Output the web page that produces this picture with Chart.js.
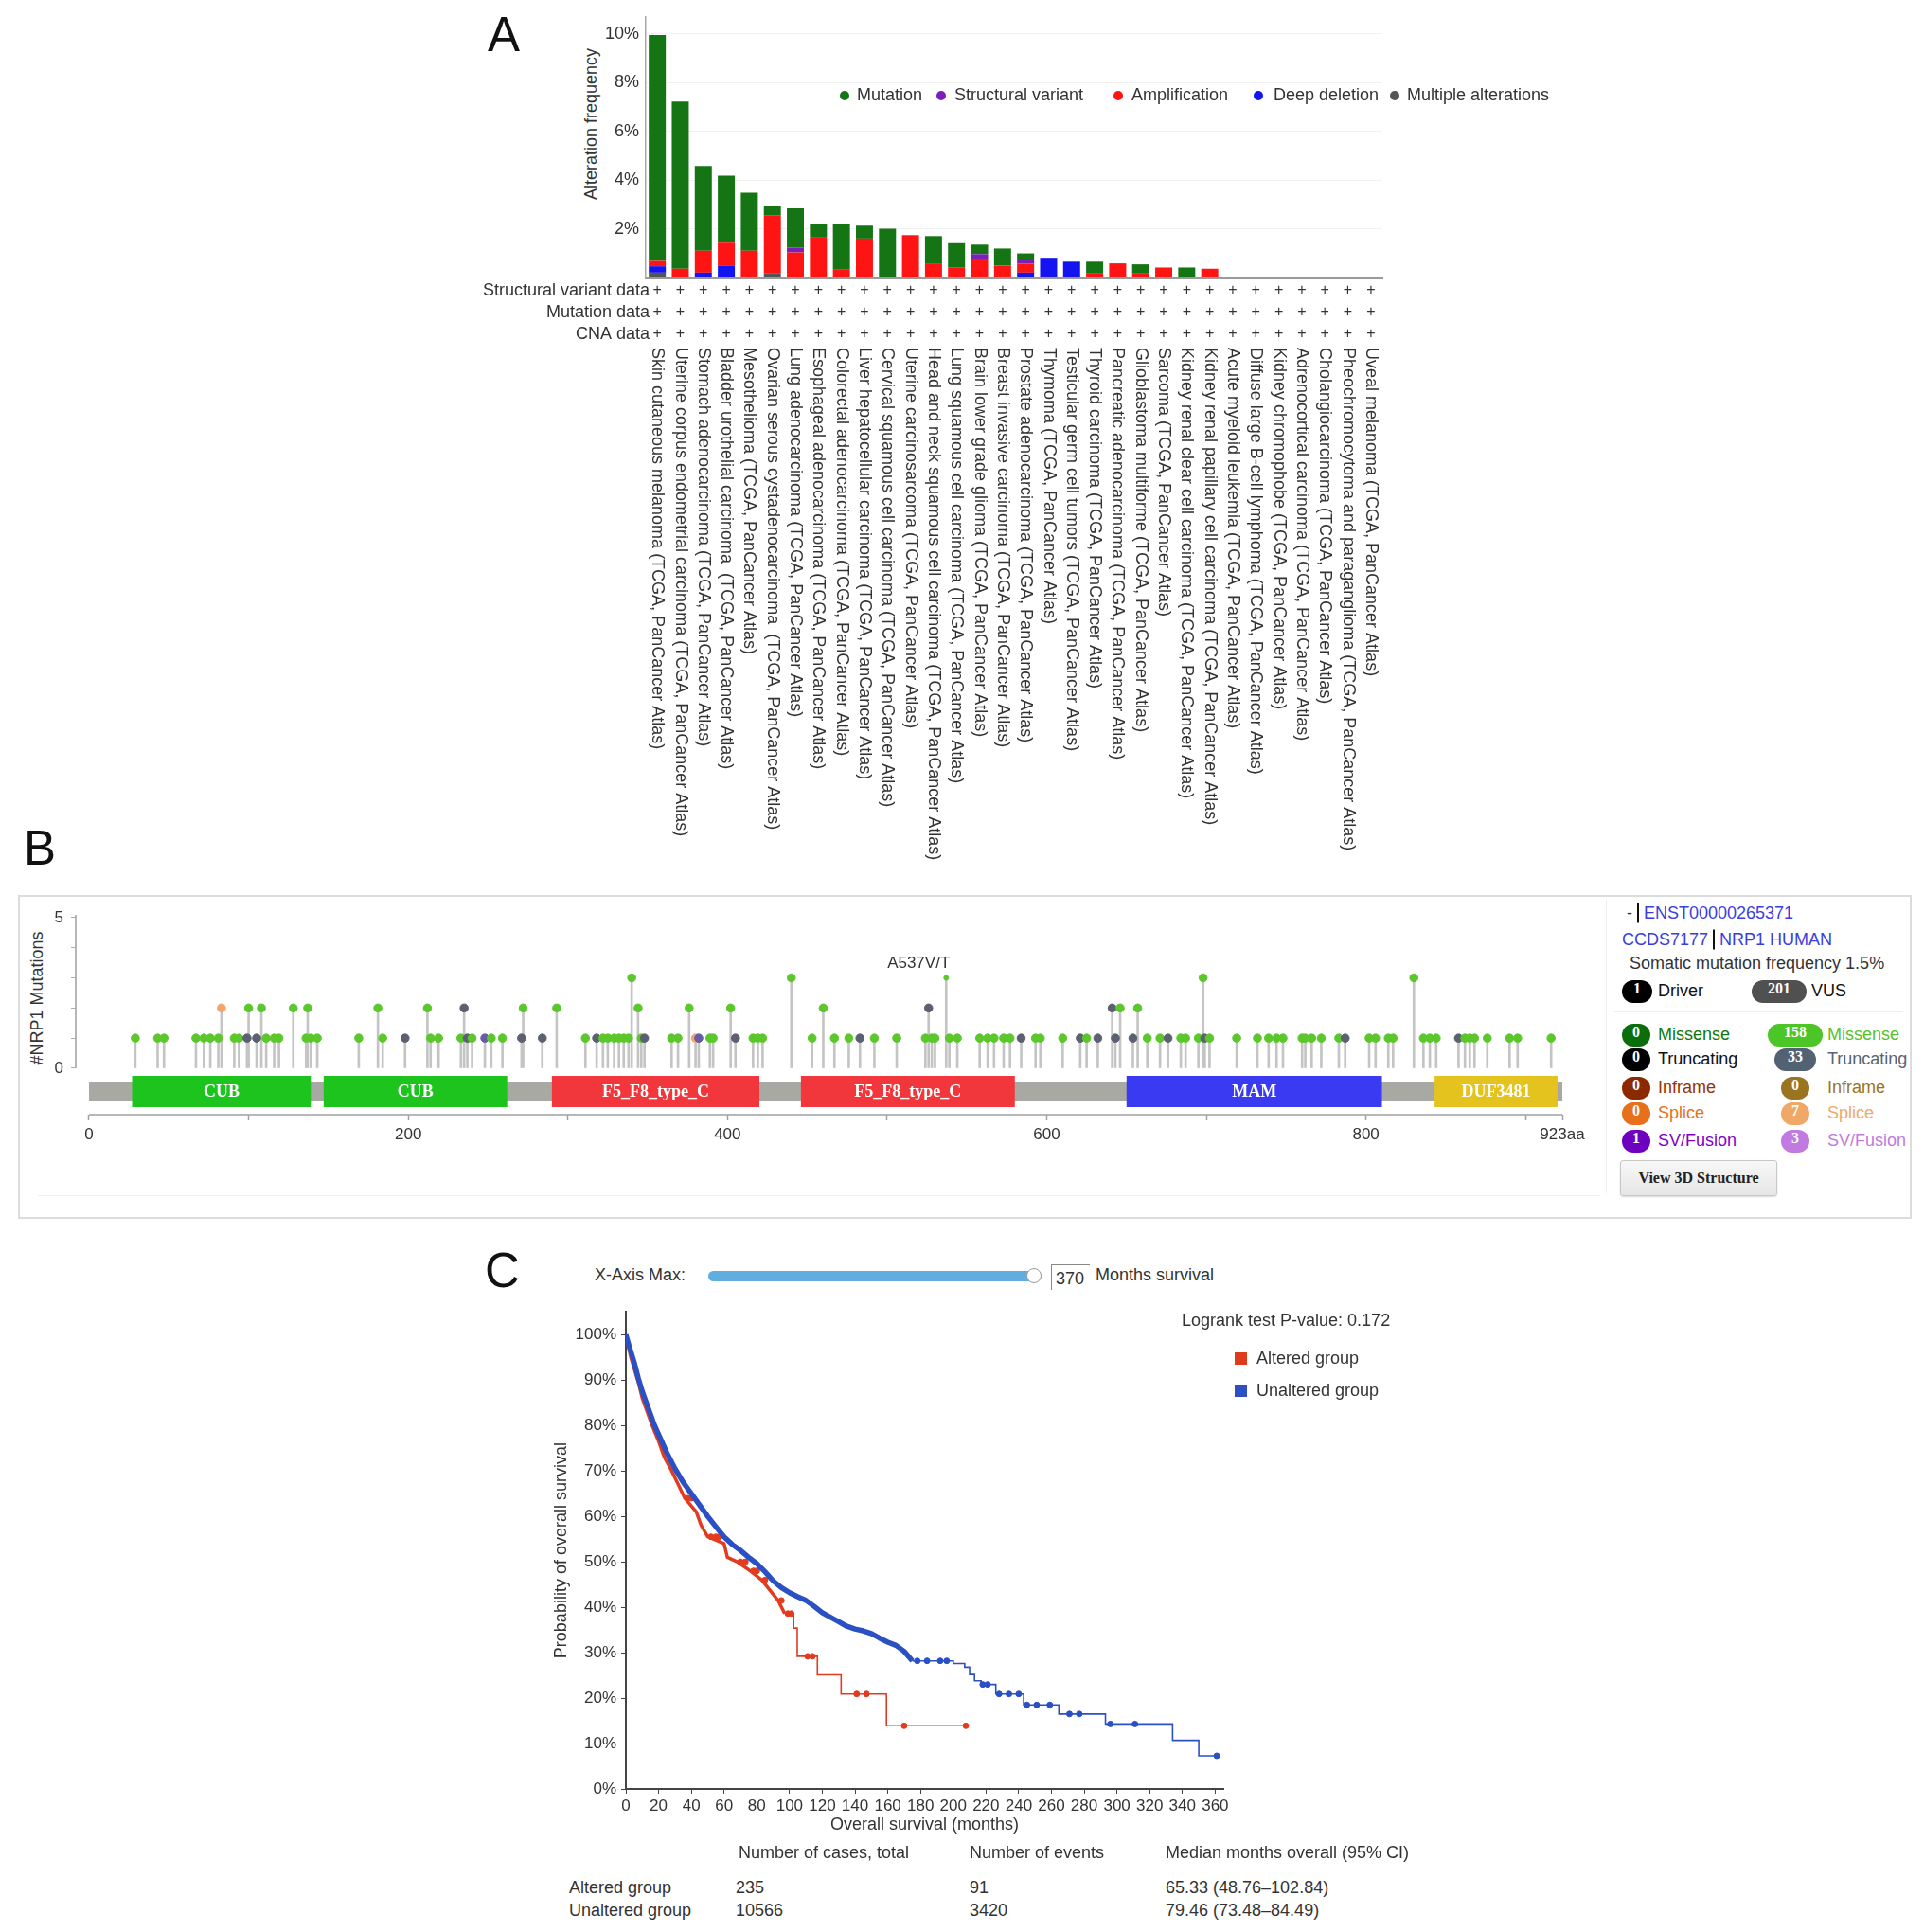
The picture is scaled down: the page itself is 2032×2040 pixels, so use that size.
<!DOCTYPE html>
<html>
<head>
<meta charset="utf-8">
<script src="https://cdn.jsdelivr.net/npm/chart.js@4.4.1/dist/chart.umd.min.js"></script>
<style>
  body { margin: 0; background: #fff; width: 2032px; height: 2040px; position: relative; overflow: hidden;
         font-family: "Liberation Sans", Arial, sans-serif; color: #333; }
  canvas { position: absolute; }
  .abs { position: absolute; white-space: nowrap; line-height: 1.2; }
  .c { transform: translateY(-50%); }
  .rot { position: absolute; white-space: nowrap; transform: translate(-50%, -50%) rotate(-90deg); font-size: 18px; }
  .letter { position: absolute; font-size: 51px; line-height: 1; color: #111; }
  .t18 { font-size: 18px; }
  .lnk { color: #3a3ee0; }
  .vbar { display: inline-block; width: 2px; height: 21px; background: #111; vertical-align: middle; margin: 0 5px 2px 5px; }
  .pill { position: absolute; height: 24px; border-radius: 12px; color: #fff; text-align: center; line-height: 24px;
          font: bold 16px "Liberation Serif", "Times New Roman", serif; transform: translateY(-50%); }
  #boxB { position: absolute; left: 19px; top: 945px; width: 1996px; height: 338px; border: 2px solid #dcdcdc; }
  .btn { position: absolute; left: 1711px; top: 1225px; width: 164px; height: 36px; border: 1px solid #c8c8c8; border-radius: 3px;
         background: linear-gradient(#f8f8f8, #e6e6e6); box-shadow: 0 1px 2px rgba(0,0,0,0.15);
         font: bold 16px "Liberation Serif", "Times New Roman", serif; color: #222; text-align: center; line-height: 36px; }
</style>
</head>
<body>

<!-- Panel A -->
<div class="letter" style="left:515px;top:11px">A</div>
<div class="rot" style="left:624px;top:131px">Alteration frequency</div>
<canvas id="chartA" width="1200" height="910" style="left:480px;top:0"></canvas>
<div id="legendA"></div>

<!-- Panel B -->
<div class="letter" style="left:25px;top:870px">B</div>
<div id="boxB"></div>
<div class="abs" style="left:40px;top:1262px;width:1650px;height:1px;background:#f0f0f0"></div>
<div class="abs" style="left:1696px;top:950px;width:1px;height:310px;background:#eeeeee"></div>
<div class="rot" style="left:39px;top:1054px">#NRP1 Mutations</div>
<canvas id="chartB" width="1680" height="300" style="left:20px;top:946px"></canvas>
<div id="legendB"></div>

<!-- Panel C -->
<div class="letter" style="left:512px;top:1316px">C</div>
<div class="abs c t18" style="left:628px;top:1347px">X-Axis Max:</div>
<div class="abs" style="left:748px;top:1342px;width:352px;height:11px;border-radius:6px;background:#62ade0"></div>
<div class="abs" style="left:1084px;top:1339px;width:14px;height:14px;border-radius:50%;background:#fff;border:1.5px solid #9a9a9a"></div>
<div class="abs t18" style="left:1110px;top:1335px;width:36px;height:26px;border-left:1.5px solid #888;border-top:1.5px solid #888;padding-left:4px;line-height:28px">370</div>
<div class="abs c t18" style="left:1157px;top:1347px">Months survival</div>
<canvas id="chartC" width="760" height="580" style="left:560px;top:1370px"></canvas>
<div class="abs c t18" style="left:1248px;top:1395px">Logrank test P-value: 0.172</div>
<div class="abs" style="left:1304px;top:1428px;width:13px;height:13px;background:#e03a1c"></div>
<div class="abs c t18" style="left:1327px;top:1435px">Altered group</div>
<div class="abs" style="left:1304px;top:1462px;width:13px;height:13px;background:#2c4fc4"></div>
<div class="abs c t18" style="left:1327px;top:1469px">Unaltered group</div>
<div id="tableC"></div>

<script>
const FONT = '"Liberation Sans", Arial, sans-serif';
Chart.defaults.font.family = FONT;
Chart.defaults.color = '#333';

// ---------- Panel A data ----------
const cancerTypes = [
  'Skin cutaneous melanoma (TCGA, PanCancer Atlas)',
  'Uterine corpus endometrial carcinoma (TCGA, PanCancer Atlas)',
  'Stomach adenocarcinoma (TCGA, PanCancer Atlas)',
  'Bladder urothelial carcinoma  (TCGA, PanCancer Atlas)',
  'Mesothelioma (TCGA, PanCancer Atlas)',
  'Ovarian serous cystadenocarcinoma  (TCGA, PanCancer Atlas)',
  'Lung adenocarcinoma (TCGA, PanCancer Atlas)',
  'Esophageal adenocarcinoma (TCGA, PanCancer Atlas)',
  'Colorectal adenocarcinoma (TCGA, PanCancer Atlas)',
  'Liver hepatocellular carcinoma (TCGA, PanCancer Atlas)',
  'Cervical squamous cell carcinoma (TCGA, PanCancer Atlas)',
  'Uterine carcinosarcoma (TCGA, PanCancer Atlas)',
  'Head and neck squamous cell carcinoma (TCGA, PanCancer Atlas)',
  'Lung squamous cell carcinoma (TCGA, PanCancer Atlas)',
  'Brain lower grade glioma (TCGA, PanCancer Atlas)',
  'Breast invasive carcinoma (TCGA, PanCancer Atlas)',
  'Prostate adenocarcinoma (TCGA, PanCancer Atlas)',
  'Thymoma (TCGA, PanCancer Atlas)',
  'Testicular germ cell tumors (TCGA, PanCancer Atlas)',
  'Thyroid carcinoma (TCGA, PanCancer Atlas)',
  'Pancreatic adenocarcinoma (TCGA, PanCancer Atlas)',
  'Glioblastoma multiforme (TCGA, PanCancer Atlas)',
  'Sarcoma (TCGA, PanCancer Atlas)',
  'Kidney renal clear cell carcinoma (TCGA, PanCancer Atlas)',
  'Kidney renal papillary cell carcinoma (TCGA, PanCancer Atlas)',
  'Acute myeloid leukemia (TCGA, PanCancer Atlas)',
  'Diffuse large B-cell lymphoma (TCGA, PanCancer Atlas)',
  'Kidney chromophobe (TCGA, PanCancer Atlas)',
  'Adrenocortical carcinoma (TCGA, PanCancer Atlas)',
  'Cholangiocarcinoma (TCGA, PanCancer Atlas)',
  'Pheochromocytoma and paraganglioma (TCGA, PanCancer Atlas)',
  'Uveal melanoma (TCGA, PanCancer Atlas)'
];
const dataRows = ['Structural variant data', 'Mutation data', 'CNA data'];
const mutationFreq = [9.28, 6.87, 3.48, 2.75, 2.38, 0.38, 1.62, 0.55, 1.86, 0.53, 2.00, 0, 1.12, 0.99, 0.39, 0.70,
                      0.22, 0, 0, 0.46, 0, 0.35, 0, 0.41, 0, 0, 0, 0, 0, 0, 0, 0];
const svFreq =       [0, 0, 0, 0, 0, 0, 0.19, 0, 0, 0, 0, 0, 0, 0, 0.19, 0,
                      0.20, 0, 0, 0, 0, 0, 0, 0, 0, 0, 0, 0, 0, 0, 0, 0];
const ampFreq =      [0.22, 0.36, 0.90, 0.94, 1.10, 2.37, 1.03, 1.64, 0.32, 1.60, 0, 1.74, 0.58, 0.42, 0.77, 0.49,
                      0.37, 0, 0, 0.19, 0.58, 0.19, 0.41, 0, 0.36, 0, 0, 0, 0, 0, 0, 0];
const deepDelFreq =  [0.26, 0, 0.20, 0.49, 0, 0, 0, 0, 0, 0, 0, 0, 0, 0, 0, 0,
                      0.20, 0.81, 0.65, 0, 0, 0, 0, 0, 0, 0, 0, 0, 0, 0, 0, 0];
const multipleFreq = [0.20, 0, 0, 0, 0, 0.17, 0, 0, 0, 0, 0, 0, 0, 0, 0, 0,
                      0, 0, 0, 0, 0, 0, 0, 0, 0, 0, 0, 0, 0, 0, 0, 0];
const freqTicks = [2, 4, 6, 8, 10];

const ALT_COLORS = {
  mutation: '#157515', sv: '#7b1fb8', amp: '#ff1414', deep: '#1414f0', multiple: '#555555'
};

// ---------- Panel B data ----------
const PROTEIN_LENGTH = 923;
const domainNames = ['CUB', 'CUB', 'F5_F8_type_C', 'F5_F8_type_C', 'MAM', 'DUF3481'];
const domainStart = [27, 147, 290, 446, 650, 843];
const domainEnd   = [139, 262, 420, 580, 810, 920];
const domainColors = ['#1ec41e', '#1ec41e', '#f2373c', '#f2373c', '#3a3af2', '#e4c31e'];

const mutPos = [29, 43, 47, 67, 72, 76, 81, 83, 91, 94, 99, 100, 105, 108, 111, 116, 119, 128, 136, 137, 139, 143,
  169, 181, 184, 198, 212, 214, 219, 233, 235, 237, 240, 248, 252, 259, 271, 272, 284, 293, 311, 318, 322, 325,
  329, 332, 335, 338, 340, 344, 346, 348, 365, 369, 376, 380, 382, 389, 391, 402, 405, 416, 419, 422, 440, 453,
  460, 467, 476, 483, 492, 506, 524, 526, 528, 530, 537, 539, 544, 558, 563, 567, 573, 577, 584, 593, 596, 610,
  621, 625, 632, 641, 643, 646, 654, 657, 663, 671, 676, 684, 687, 695, 698, 699, 702, 719, 732, 739, 744, 748,
  760, 762, 766, 772, 783, 787, 802, 806, 814, 817, 830, 836, 840, 844, 858, 862, 865, 868, 876, 890, 895, 916];
const mutCount = [1, 1, 1, 1, 1, 1, 1, 2, 1, 1, 1, 2, 1, 2, 1, 1, 1, 2, 1, 2, 1, 1,
  1, 2, 1, 1, 2, 1, 1, 1, 2, 1, 1, 1, 1, 1, 1, 2, 1, 2, 1, 1, 1, 1,
  1, 1, 1, 1, 3, 2, 1, 1, 1, 1, 2, 1, 1, 1, 1, 2, 1, 1, 1, 1, 3, 1,
  2, 1, 1, 1, 1, 1, 1, 2, 1, 1, 3, 1, 1, 1, 1, 1, 1, 1, 1, 1, 1, 1,
  1, 1, 1, 2, 1, 2, 1, 2, 1, 1, 1, 1, 1, 1, 3, 1, 1, 1, 1, 1, 1, 1,
  1, 1, 1, 1, 1, 1, 1, 1, 1, 1, 3, 1, 1, 1, 1, 1, 1, 1, 1, 1, 1, 1];
const mutType = ['M', 'M', 'M', 'M', 'M', 'M', 'M', 'S', 'M', 'M', 'T', 'M', 'T', 'M', 'M', 'M', 'M', 'M', 'M', 'M', 'M', 'M',
  'M', 'M', 'M', 'T', 'M', 'M', 'M', 'M', 'T', 'T', 'M', 'F', 'M', 'M', 'T', 'M', 'T', 'M', 'M', 'T', 'M', 'M',
  'M', 'M', 'M', 'M', 'M', 'M', 'M', 'T', 'M', 'M', 'M', 'S', 'F', 'M', 'M', 'M', 'T', 'M', 'M', 'M', 'M', 'M',
  'M', 'M', 'M', 'T', 'M', 'M', 'M', 'T', 'M', 'M', 'M', 'M', 'M', 'M', 'M', 'M', 'M', 'M', 'T', 'M', 'M', 'M',
  'T', 'M', 'T', 'T', 'T', 'M', 'T', 'M', 'M', 'M', 'T', 'M', 'M', 'M', 'M', 'T', 'M', 'M', 'M', 'M', 'M', 'M',
  'M', 'M', 'M', 'M', 'M', 'T', 'M', 'M', 'M', 'M', 'M', 'M', 'M', 'M', 'T', 'M', 'M', 'M', 'M', 'M', 'M', 'M'];
const HEAD_COLORS = { M: '#5cc72c', T: '#5b6170', F: '#675ca6', S: '#f2a46e' };
const labelledMutation = { pos: 537, text: 'A537V/T' };
const countTicks = [0, 1, 2, 3, 4, 5];
const aaTicks = [0, 100, 200, 300, 400, 500, 600, 700, 800, 900, 923];

// ---------- Panel C data ----------
const unalteredT = [0, 2, 5, 7.5, 10, 12.5, 15, 17.5, 20, 25, 30, 35, 40, 45, 50, 55, 60, 65, 70, 75, 80, 85, 90, 95,
  100, 105, 110, 115, 120, 125, 130, 135, 140, 145, 150, 155, 160, 165, 170, 175, 200, 207, 210, 213, 217, 226,
  243, 264.5, 293, 334, 350, 361];
const unalteredS = [100, 97.5, 94, 90.5, 87.5, 85, 82.5, 80, 78, 74, 70.5, 67.5, 65, 62.5, 60, 57.7, 55.5, 53.8, 52.5,
  51, 49.6, 47.8, 45.8, 44.3, 43.2, 42.3, 41.5, 40.2, 38.8, 37.8, 36.8, 35.8, 35.2, 34.8, 34.2, 33.2, 32.3, 31.6,
  30.3, 28.2, 27.6, 26.8, 25.2, 23.8, 23.0, 20.9, 18.5, 16.5, 14.3, 10.7, 7.3, 7.3];
const unalteredCensorT = [178, 184, 192, 196, 218, 221, 228, 234, 240, 245, 251, 259, 271, 277, 296, 311, 361];
const unalteredCensorS = [28.2, 28.2, 28.2, 28.2, 23.0, 23.0, 20.9, 20.9, 20.9, 18.5, 18.5, 18.5, 16.5, 16.5, 14.3, 14.3, 7.3];

const alteredT = [0, 3, 5.5, 8, 10, 13, 16, 20, 23.5, 28, 32, 36, 43, 46, 50, 60, 62, 68, 76, 83, 93, 97, 102.5,
  104.7, 117, 131.5, 159.2, 207.7];
const alteredS = [100, 95, 92, 89, 86, 83, 80, 76.5, 73, 70, 67, 64, 61, 58, 55.5, 54, 51, 50, 48, 46, 41.5, 38.6,
  35.4, 29.2, 25.1, 20.9, 13.9, 13.9];
const alteredCensorT = [38, 40, 52, 55, 57, 70, 73, 78, 80, 85, 95, 99, 101, 111, 114, 141, 147, 170, 207.7];
const alteredCensorS = [64, 64, 55.5, 55.5, 55.5, 50, 50, 48, 48, 46, 41.5, 38.6, 38.6, 29.2, 29.2, 20.9, 20.9, 13.9, 13.9];
// beyond these times the curves are drawn as sparse steps; before them events are dense
const unalteredDenseUntil = 175;
const alteredDenseUntil = 97;
const survTicksX = [0, 20, 40, 60, 80, 100, 120, 140, 160, 180, 200, 220, 240, 260, 280, 300, 320, 340, 360];
const survTicksY = [0, 10, 20, 30, 40, 50, 60, 70, 80, 90, 100];

const tableHeader = ['Number of cases, total', 'Number of events', 'Median months overall (95% CI)'];
const tableGroups = ['Altered group', 'Unaltered group'];
const tableCases = ['235', '10566'];
const tableEvents = ['91', '3420'];
const tableMedian = ['65.33 (48.76\u2013102.84)', '79.46 (73.48\u201384.49)'];

// ================= Panel A =================
const studyLabelsPlugin = {
  id: 'studyLabels',
  afterDraw(chart) {
    const { ctx } = chart;
    const x = chart.scales.x;
    const rowY = [307, 330, 353];
    ctx.save();
    ctx.fillStyle = '#333';
    ctx.textBaseline = 'middle';
    dataRows.forEach((name, r) => {
      ctx.font = '18px ' + FONT;
      ctx.textAlign = 'right';
      ctx.fillText(name, x.left + 4, rowY[r]);
      ctx.font = '16px ' + FONT;
      ctx.textAlign = 'center';
      cancerTypes.forEach((_, i) => ctx.fillText('+', x.getPixelForValue(i), rowY[r]));
    });
    ctx.font = '18px ' + FONT;
    ctx.textAlign = 'left';
    cancerTypes.forEach((name, i) => {
      ctx.save();
      ctx.translate(x.getPixelForValue(i), 367);
      ctx.rotate(Math.PI / 2);
      ctx.fillText(name, 0, 0);
      ctx.restore();
    });
    ctx.restore();
  }
};

new Chart(document.getElementById('chartA'), {
  type: 'bar',
  data: {
    labels: cancerTypes,
    datasets: [
      { label: 'Multiple alterations', data: multipleFreq, backgroundColor: ALT_COLORS.multiple },
      { label: 'Deep deletion', data: deepDelFreq, backgroundColor: ALT_COLORS.deep },
      { label: 'Amplification', data: ampFreq, backgroundColor: ALT_COLORS.amp },
      { label: 'Structural variant', data: svFreq, backgroundColor: ALT_COLORS.sv },
      { label: 'Mutation', data: mutationFreq, backgroundColor: ALT_COLORS.mutation }
    ]
  },
  options: {
    responsive: false,
    animation: false,
    layout: { padding: { left: 126, right: 220, top: 18, bottom: 617 } },
    datasets: { bar: { categoryPercentage: 1, barPercentage: 0.74 } },
    plugins: { legend: { display: false }, tooltip: { enabled: false } },
    scales: {
      x: {
        stacked: true,
        grid: { display: false },
        ticks: { display: false },
        border: { color: '#9a9a9a', width: 3 },
        afterFit(s) { s.height = 0; }
      },
      y: {
        stacked: true, min: 0, max: 10.7,
        afterBuildTicks(s) { s.ticks = freqTicks.map(v => ({ value: v })); },
        ticks: { callback: v => v + '%', font: { size: 18 }, color: '#333', padding: 7 },
        grid: { color: '#f1f1f1', drawTicks: false },
        border: { color: '#a8a8a8', width: 1.5 },
        afterFit(s) { s.width = 76; }
      }
    }
  },
  plugins: [studyLabelsPlugin]
});

// legend A (html)
const legendItemsA = [
  { text: 'Mutation', color: ALT_COLORS.mutation, dot: 892, label: 905 },
  { text: 'Structural variant', color: ALT_COLORS.sv, dot: 994, label: 1008 },
  { text: 'Amplification', color: ALT_COLORS.amp, dot: 1181, label: 1195 },
  { text: 'Deep deletion', color: ALT_COLORS.deep, dot: 1329, label: 1345 },
  { text: 'Multiple alterations', color: ALT_COLORS.multiple, dot: 1473, label: 1486 }
];
document.getElementById('legendA').innerHTML = legendItemsA.map(it =>
  `<div class="abs" style="left:${it.dot - 5}px;top:96px;width:10px;height:10px;border-radius:50%;background:${it.color}"></div>
   <div class="abs c t18" style="left:${it.label}px;top:101px">${it.text}</div>`).join('');

// ================= Panel B =================
const proteinPlugin = {
  id: 'protein',
  afterDatasetsDraw(chart) {
    const { ctx, chartArea } = chart;
    const { x, y } = chart.scales;
    const y0 = y.getPixelForValue(0);
    const x0 = x.getPixelForValue(0), x1 = x.getPixelForValue(PROTEIN_LENGTH);
    ctx.save();
    // axis lines
    ctx.strokeStyle = '#a0a0a0';
    ctx.lineWidth = 1.5;
    ctx.beginPath();
    ctx.moveTo(chartArea.left, y.getPixelForValue(5.09));
    ctx.lineTo(chartArea.left, y0);
    ctx.moveTo(x0, chartArea.bottom);
    ctx.lineTo(x1, chartArea.bottom);
    ctx.stroke();
    // backbone
    ctx.fillStyle = '#a9a9a3';
    ctx.fillRect(x0, y0 + 15, x1 - x0, 20);
    // domains
    ctx.font = 'bold 18px "Liberation Serif", "Times New Roman", serif';
    ctx.textAlign = 'center';
    ctx.textBaseline = 'middle';
    domainNames.forEach((name, i) => {
      const a = x.getPixelForValue(domainStart[i]), b = x.getPixelForValue(domainEnd[i]);
      ctx.fillStyle = domainColors[i];
      ctx.fillRect(a, y0 + 8, b - a, 33);
      ctx.fillStyle = '#ffffff';
      ctx.fillText(name, (a + b) / 2, y0 + 25);
    });
    // labelled hotspot
    const idx = mutPos.indexOf(labelledMutation.pos);
    ctx.fillStyle = '#333';
    ctx.font = '17px ' + FONT;
    ctx.textAlign = 'right';
    ctx.fillText(labelledMutation.text, x.getPixelForValue(labelledMutation.pos) + 4, y.getPixelForValue(mutCount[idx]) - 15);
    ctx.restore();
  }
};

new Chart(document.getElementById('chartB'), {
  type: 'scatter',
  data: {
    datasets: [
      {
        type: 'bar', order: 1,
        data: mutPos.map((p, i) => ({ x: p, y: mutCount[i] })),
        backgroundColor: '#c4c4c4', barThickness: 2
      },
      {
        type: 'scatter', order: 0,
        data: mutPos.map((p, i) => ({ x: p, y: mutCount[i] })),
        pointRadius: c => mutPos[c.dataIndex] === labelledMutation.pos ? 2.5 : 4.3,
        pointBackgroundColor: c => HEAD_COLORS[mutType[c.dataIndex]],
        pointBorderColor: c => HEAD_COLORS[mutType[c.dataIndex]],
        pointBorderWidth: 1
      }
    ]
  },
  options: {
    responsive: false,
    animation: false,
    layout: { padding: { left: 5, right: 50, top: 20, bottom: 29 } },
    plugins: { legend: { display: false }, tooltip: { enabled: false } },
    scales: {
      x: {
        type: 'linear', min: -8.3, max: PROTEIN_LENGTH, offset: false,
        afterBuildTicks(s) { s.ticks = aaTicks.map(v => ({ value: v })); },
        ticks: {
          autoSkip: false, maxRotation: 0, padding: 5, font: { size: 17 }, color: '#333',
          callback: v => v === PROTEIN_LENGTH ? v + 'aa' : (v % 200 === 0 ? v : '')
        },
        grid: { offset: false, drawOnChartArea: false, drawTicks: true, tickLength: 6, tickColor: '#a0a0a0', tickWidth: 1.5 },
        border: { display: false },
        afterFit(s) { s.height = 40; }
      },
      y: {
        min: -1.54, max: 5.09,
        afterBuildTicks(s) { s.ticks = countTicks.map(v => ({ value: v })); },
        ticks: { padding: 8, font: { size: 17 }, color: '#333', callback: v => (v === 0 || v === 5) ? v : '' },
        grid: { drawOnChartArea: false, drawTicks: true, tickLength: 5, tickColor: '#b0b0b0' },
        border: { display: false },
        afterFit(s) { s.width = 55; }
      }
    }
  },
  plugins: [proteinPlugin]
});

// legend B (html)
const pillRowsY = [1093, 1119, 1149, 1176, 1205];
const driverPills = [
  { n: '0', label: 'Missense', bg: '#0b6e0b', fg: '#0b780b' },
  { n: '0', label: 'Truncating', bg: '#000000', fg: '#111111' },
  { n: '0', label: 'Inframe', bg: '#8b2a00', fg: '#993300' },
  { n: '0', label: 'Splice', bg: '#e8701a', fg: '#e8701a' },
  { n: '1', label: 'SV/Fusion', bg: '#7000c0', fg: '#8000c8' }
];
const vusPills = [
  { n: '158', label: 'Missense', bg: '#4cc626', fg: '#55c22a', w: 58 },
  { n: '33', label: 'Truncating', bg: '#536272', fg: '#5a6472', w: 44 },
  { n: '0', label: 'Inframe', bg: '#9a7420', fg: '#9a7420', w: 30 },
  { n: '7', label: 'Splice', bg: '#f0a868', fg: '#f0a868', w: 30 },
  { n: '3', label: 'SV/Fusion', bg: '#c07ae0', fg: '#c07ae0', w: 30 }
];
let htmlB = `
  <div class="abs c t18" style="left:1718px;top:965px">-<span class="vbar"></span><span class="lnk">ENST00000265371</span></div>
  <div class="abs c t18" style="left:1713px;top:993px"><span class="lnk">CCDS7177</span><span class="vbar"></span><span class="lnk">NRP1 HUMAN</span></div>
  <div class="abs c t18" style="left:1721px;top:1018px">Somatic mutation frequency 1.5%</div>
  <div class="pill" style="left:1713px;top:1047px;width:32px;background:#000">1</div>
  <div class="abs c t18" style="left:1751px;top:1047px;color:#111">Driver</div>
  <div class="pill" style="left:1850px;top:1047px;width:58px;background:#505050">201</div>
  <div class="abs c t18" style="left:1913px;top:1047px;color:#111">VUS</div>
  <div class="abs" style="left:1705px;top:1068px;width:305px;height:1px;background:#eeeeee"></div>
  <div class="btn">View 3D Structure</div>`;
pillRowsY.forEach((y, i) => {
  const d = driverPills[i], v = vusPills[i];
  htmlB += `<div class="pill" style="left:1713px;top:${y}px;width:30px;background:${d.bg}">${d.n}</div>
    <div class="abs c t18" style="left:1751px;top:${y}px;color:${d.fg}">${d.label}</div>
    <div class="pill" style="left:${1896 - v.w / 2}px;top:${y}px;width:${v.w}px;background:${v.bg}">${v.n}</div>
    <div class="abs c t18" style="left:1930px;top:${y}px;color:${v.fg}">${v.label}</div>`;
});
document.getElementById('legendB').innerHTML = htmlB;

// ================= Panel C =================
const RED = '#e23b1f', BLUE = '#2b50c4';
const toXY = (t, s) => t.map((v, i) => ({ x: v, y: s[i] }));
const densePart = (t, s, cut) => toXY(t, s).filter(p => p.x <= cut);
const tailPart = (t, s, cut) => toXY(t, s).filter(p => p.x >= cut);

new Chart(document.getElementById('chartC'), {
  type: 'line',
  data: {
    datasets: [
      {
        label: 'Unaltered group', data: densePart(unalteredT, unalteredS, unalteredDenseUntil),
        borderColor: BLUE, pointRadius: 0, borderWidth: 5.5, tension: 0, borderJoinStyle: 'round'
      },
      {
        label: 'Unaltered group (tail)', data: tailPart(unalteredT, unalteredS, unalteredDenseUntil), stepped: true,
        borderColor: BLUE, pointRadius: 0, borderWidth: 1.6
      },
      {
        type: 'scatter', label: 'Unaltered censored', data: toXY(unalteredCensorT, unalteredCensorS),
        pointRadius: 3, backgroundColor: BLUE, borderColor: BLUE
      },
      {
        label: 'Altered group', data: densePart(alteredT, alteredS, alteredDenseUntil),
        borderColor: RED, pointRadius: 0, borderWidth: 3.5, tension: 0, borderJoinStyle: 'round'
      },
      {
        label: 'Altered group (tail)', data: tailPart(alteredT, alteredS, alteredDenseUntil), stepped: true,
        borderColor: RED, pointRadius: 0, borderWidth: 1.6
      },
      {
        type: 'scatter', label: 'Altered censored', data: toXY(alteredCensorT, alteredCensorS),
        pointRadius: 3, backgroundColor: RED, borderColor: RED
      }
    ]
  },
  options: {
    responsive: false,
    animation: false,
    layout: { padding: { left: 18, right: 28, top: 13, bottom: 8 } },
    plugins: { legend: { display: false }, tooltip: { enabled: false } },
    scales: {
      x: {
        type: 'linear', min: 0, max: 365,
        afterBuildTicks(s) { s.ticks = survTicksX.map(v => ({ value: v })); },
        ticks: { autoSkip: false, maxRotation: 0, padding: 3, font: { size: 17 }, color: '#333' },
        grid: { drawOnChartArea: false, tickLength: 5, tickColor: '#444' },
        border: { color: '#444', width: 2 },
        title: { display: true, text: 'Overall survival (months)', font: { size: 18 }, color: '#333' },
        afterFit(s) { s.height = 53; }
      },
      y: {
        min: 0, max: 105,
        afterBuildTicks(s) { s.ticks = survTicksY.map(v => ({ value: v })); },
        ticks: { callback: v => v + '%', padding: 5, font: { size: 17 }, color: '#333' },
        grid: { drawOnChartArea: false, tickLength: 5, tickColor: '#444' },
        border: { color: '#444', width: 2 },
        title: { display: true, text: 'Probability of overall survival', font: { size: 18 }, color: '#333' },
        afterFit(s) { s.width = 83; }
      }
    }
  }
});

// table C
const colX = [780, 1024, 1231];
let htmlC = tableHeader.map((h, i) => `<div class="abs c t18" style="left:${colX[i]}px;top:1957px">${h}</div>`).join('');
const rowYC = [1994, 2018];
tableGroups.forEach((g, r) => {
  htmlC += `<div class="abs c t18" style="left:601px;top:${rowYC[r]}px">${g}</div>
    <div class="abs c t18" style="left:777px;top:${rowYC[r]}px">${tableCases[r]}</div>
    <div class="abs c t18" style="left:1024px;top:${rowYC[r]}px">${tableEvents[r]}</div>
    <div class="abs c t18" style="left:1231px;top:${rowYC[r]}px">${tableMedian[r]}</div>`;
});
document.getElementById('tableC').innerHTML = htmlC;
</script>
</body>
</html>
